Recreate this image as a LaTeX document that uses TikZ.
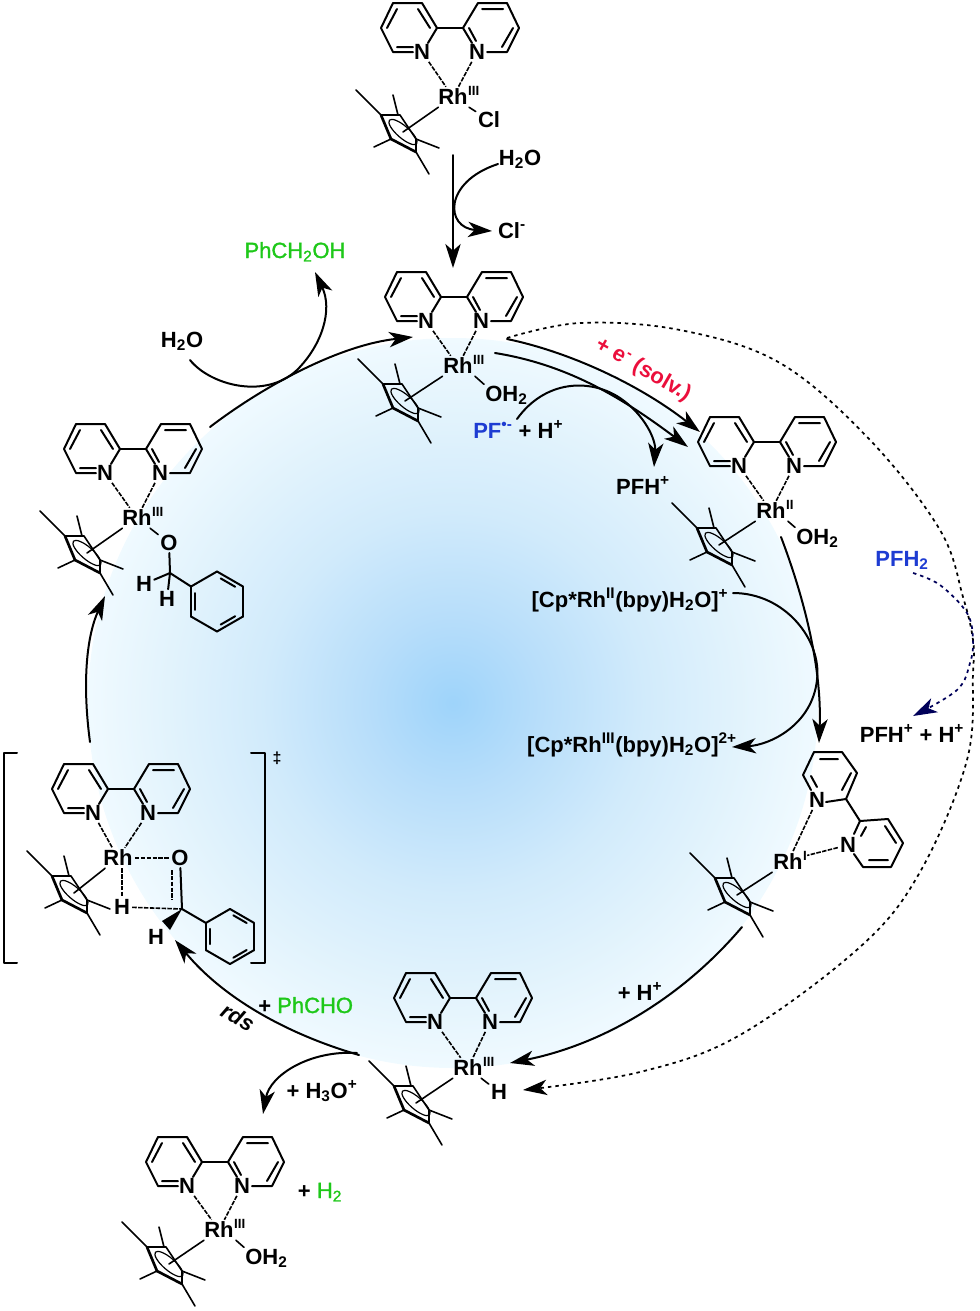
\documentclass[tikz,border=0pt]{standalone}
\usepackage{fontspec}
\setmainfont{Liberation Sans}
\usetikzlibrary{arrows.meta,positioning,calc}
\definecolor{prodgreen}{RGB}{30,200,25}
\definecolor{pfblue}{RGB}{30,60,210}
\definecolor{electronred}{RGB}{235,15,60}
\pgfdeclareradialshading{glow}{\pgfpoint{0bp}{0bp}}{
    rgb(0bp)=(0.62,0.83,0.98);
    rgb(6bp)=(0.72,0.87,0.98);
    rgb(13bp)=(0.82,0.92,0.985);
    rgb(20bp)=(0.89,0.955,0.99);
    rgb(25bp)=(0.94,0.98,1);
    rgb(50bp)=(1,1,1)}
\begin{document}
\begin{tikzpicture}[x=0.75pt,y=-0.75pt,line cap=round,
        bond/.style={line width=1.5pt,line join=round},
        thin bond/.style={line width=1.2pt,line join=round},
        dash bond/.style={line width=1.2pt,dash pattern=on 3.4pt off 1pt,line cap=butt},
        rxn/.style={line width=1.5pt,-{Stealth[length=18pt,width=11.5pt,inset=5pt]}},
        dot rxn/.style={line width=1.3pt,line cap=butt,dash pattern=on 2.6pt off 3pt,-{Stealth[length=18pt,width=11.5pt,inset=5pt]}},
        atom/.style={font=\fontsize{16.5}{17}\selectfont\bfseries,inner sep=1.5pt},
        sup/.style={font=\fontsize{10}{10}\selectfont\bfseries,inner sep=0pt},
        lbl/.style={font=\fontsize{16.5}{17}\selectfont\bfseries,inner sep=0pt},
        prod/.style={font=\fontsize{16.5}{17}\selectfont\addfontfeature{FakeBold=1.5},inner sep=0pt,text=prodgreen}]
        \useasboundingbox (0,0) rectangle (980,1311);

        % draw the shaded disc
        \shade[shading=glow] (453,703) circle (365);

        % draw the bipyridine and the metal of each complex
        \foreach \n/\bx/\by/\rx/\ry/\ox in {
            top/450/28/453/97/III,
            aq/454/297/458/366/III,
            two/767/442/771/511/II,
            alc/133/449/137/518/III,
            ts/121/789/118/858/{},
            hyd/463/998/468/1068/III,
            prod/215/1162/219/1230/III} {
                \begin{scope}[shift={(\bx,\by)}]
                        % the two rings
                        \draw[bond] (-22,15) -- (-13,0) -- (-28,-25) -- (-57,-25) -- (-69,0) -- (-57,24) -- (-37,24);
                        \draw[bond] (22,15) -- (13,0) -- (28,-25) -- (57,-25) -- (69,0) -- (57,24) -- (37,24);
                        \draw[bond] (-13,0) -- (13,0);
                        % the double bonds
                        \draw[bond] (-63,0) -- (-53,-19) (-32,-19) -- (-20,0) (-53,19) -- (-37,19);
                        \draw[bond] (32,-19) -- (53,-19) (63,0) -- (52,19) (19,0) -- (26,13);
                        \node[atom] (nl\n) at (-28,24) {N};
                        \node[atom] (nr\n) at (27,24) {N};
                \end{scope}
                \node[atom] (rh\n) at (\rx,\ry) {Rh};
                \node[sup,anchor=base west] (ox\n) at ([xshift=-1.5pt,yshift=1.5pt]rh\n.east) {\ox};
                \draw[dash bond] (nl\n) -- (rh\n);
                \draw[dash bond] (nr\n) -- (rh\n);
        }

        % the metal of the slipped complex
        \node[atom] (rhone) at (788,862) {Rh};
        \node[sup,anchor=base west] (oxone) at ([xshift=-1.5pt,yshift=1.5pt]rhone.east) {I};
        \node[atom] (nlone) at (817,800) {N};
        \node[atom] (nrone) at (848,845) {N};
        \draw[bond] (811,790) -- (803,775) -- (814,752) -- (842,752) -- (857,773) -- (846,799) -- (826,802);
        \draw[bond] (846,799) -- (860,821) -- (888,819) -- (903,843) -- (891,867) -- (863,867) -- (854,854);
        \draw[bond] (860,821) -- (854,834);
        \draw[bond] (811,776) -- (817,787) (820,759) -- (838,759) (851,773) -- (842,790);
        \draw[bond] (866,827) -- (861,836) (885,826) -- (896,843) (869,860) -- (888,860);
        \draw[dash bond] (nlone) -- (rhone);
        \draw[dash bond] (nrone) -- (oxone.east);

        % draw the Cp* rings
        \foreach \n/\cx/\cy in {
            top/453/97,
            aq/455/366,
            two/769/510,
            alc/137/518,
            ts/124/858,
            one/787/860,
            hyd/466/1068,
            prod/219/1229} {
                \begin{scope}[shift={(\cx,\cy)}]
                        \draw[thin bond] (-72,18) -- (-53,18) -- (-37,42) -- (-37,55);
                        \draw[bond,line width=2pt] (-72,18) -- (-62,42) -- (-37,55);
                        \draw[thin bond] (-72,18) -- (-97,-7) (-55,18) -- (-60,-2) (-37,42) -- (-14,51) (-37,55) -- (-24,77) (-62,42) -- (-79,50);
                        \draw[thin bond,line width=0.9pt] (-50,35) ellipse [x radius=18,y radius=6,rotate=-41];
                        \coordinate (cp\n) at (-50,35);
                \end{scope}
                \draw[thin bond] (rh\n) -- (cp\n);
        }

        % the other ligands on the metal
        \node[atom] (cltop) at (489,120) {Cl};
        \draw[thin bond] (rhtop) -- (cltop);
        \node[atom] (hhyd) at (499,1092) {H};
        \draw[thin bond] (rhhyd) -- (hhyd);
        \foreach \n/\x/\y in {aq/484/401,two/795/544,prod/244/1264} {
                \node[lbl,anchor=base west,outer sep=1pt] (oh\n) at (\x,\y) {OH\textsubscript{2}};
                \draw[thin bond] (rh\n.south east) -- (oh\n.north west);
        }

        % the benzyl alcohol ligand
        \node[atom] (oalc) at (169,543) {O};
        \node[atom] (hlalc) at (144,584) {H};
        \node[atom] (hdalc) at (167,599) {H};
        \coordinate (calc) at (170,573);
        \draw[thin bond] (rhalc) -- (oalc);
        \draw[bond] (oalc) -- (calc) -- (hlalc);
        \draw[bond] (calc) -- (hdalc);
        \draw[bond] (calc) -- (191,586.5);

        % the transition state
        \node[atom] (ots) at (180,858) {O};
        \node[atom] (hats) at (122,907) {H};
        \node[atom] (hbts) at (156,937) {H};
        \coordinate (cts) at (182,909);
        \draw[dash bond] (rhts) -- (ots);
        \draw[dash bond] (rhts.south -| hats) -- (hats);
        \draw[dash bond] (hats) -- (cts);
        \draw[bond] (ots) -- (cts);
        \draw[dash bond] (172,870) -- (172,900);
        \fill (cts) -- (162,921) -- (170,930) -- cycle;
        \draw[bond] (cts) -- (206,923);
        \draw[bond] (17,753) -- (4,753) -- (4,963) -- (17,963);
        \draw[bond] (251,753) -- (265,753) -- (265,963) -- (251,963);
        \node[sup,font=\fontsize{12}{12}\selectfont\bfseries] (dagts) at (277,758) {‡};

        % the two phenyl rings
        \foreach \px/\py/\pr in {217/601.5/30,230/936.5/27.5} {
                \foreach \a in {30,90,...,330}
                        \draw[bond] (\px,\py) +(\a:\pr) -- +(\a+60:\pr);
                \foreach \a in {150,270,30}
                        \draw[bond] (\px,\py) +(\a+9:0.78*\pr) -- +(\a+51:0.78*\pr);
        }

        % draw the labels
        \node[lbl,anchor=base] (wtop) at (520,165) {H\textsubscript{2}O};
        \node[lbl,anchor=base] (cl) at (512,238) {Cl\textsuperscript{-}};
        \node[prod,anchor=base] (alcohol) at (295,258) {PhCH\textsubscript{2}OH};
        \node[lbl,anchor=base] (wleft) at (182,347) {H\textsubscript{2}O};
        \node[lbl,anchor=base west] (pfrad) at (473,438) {\textcolor{pfblue}{PF\textsuperscript{•-}} + H\textsuperscript{+}};
        \node[lbl,anchor=base] (pfha) at (643,494) {PFH\textsuperscript{+}};
        \node[lbl,anchor=base] (rhtwo) at (630,607) {[Cp*Rh\textsuperscript{II}(bpy)H\textsubscript{2}O]\textsuperscript{+}};
        \node[lbl,anchor=base] (rhthree) at (632,752) {[Cp*Rh\textsuperscript{III}(bpy)H\textsubscript{2}O]\textsuperscript{2+}};
        \node[lbl,anchor=base,text=pfblue] (pfhh) at (902,566) {PFH\textsubscript{2}};
        \node[lbl,anchor=base] (pfhb) at (912,742) {PFH\textsuperscript{+} + H\textsuperscript{+}};
        \node[lbl,anchor=base] (proton) at (640,1000) {+ H\textsuperscript{+}};
        \node[lbl,anchor=base west] (plusald) at (258,1013) {+ \textcolor{prodgreen}{\mdseries\addfontfeature{FakeBold=1.5}PhCHO}};
        \node[lbl,anchor=base] (hydronium) at (322,1098) {+ H\textsubscript{3}O\textsuperscript{+}};
        \node[lbl,anchor=base] (plush) at (320,1198) {+ \textcolor{prodgreen}{\mdseries\addfontfeature{FakeBold=1.5}H\textsubscript{2}}};
        \node[lbl,rotate=-30,font=\fontsize{16.5}{17}\selectfont\bfseries\itshape] (rds) at (238,1017) {rds};
        \node[lbl,rotate=-30,text=electronred] (solv) at (643,370) {+ e\textsuperscript{-} (solv.)};

        % free ends of the arrows
        \coordinate (in) at (453,155);
        \coordinate (out) at (453,268);
        \coordinate (aqs) at (507,339);
        \coordinate (aqm) at (495,353);

        % draw the arrows
        \draw[rxn] (in) -- (out);
        \draw[rxn] (498,164) .. controls (443,182) and (445,228) .. (492,231);
        \draw[rxn] (210,427) .. controls (265,385) and (340,345) .. (413,337);
        \draw[rxn] (190,360) .. controls (210,385) and (265,400) .. (297,370) .. controls (322,345) and (333,310) .. (315,272);
        \draw[rxn] (aqs) .. controls (570,352) and (640,385) .. (700,432);
        \draw[rxn] (aqm) .. controls (570,365) and (625,400) .. (688,447);
        \draw[rxn] (517,419) .. controls (545,380) and (590,378) .. (620,398) .. controls (645,415) and (656,440) .. (654,467);
        \draw[rxn] (781,537) .. controls (805,600) and (822,670) .. (819,743);
        \draw[rxn] (733,593) .. controls (785,593) and (822,640) .. (817,680) .. controls (812,725) and (770,745) .. (732,747);
        \draw[rxn] (742,927) .. controls (680,1000) and (600,1045) .. (510,1063);
        \draw[rxn] (359,1055) .. controls (290,1035) and (225,1000) .. (175,940);
        \draw[rxn] (357,1053) .. controls (310,1050) and (270,1075) .. (263,1114);
        \draw[rxn] (90,742) .. controls (83,690) and (85,640) .. (105,596);

        % the dotted arrows
        \draw[dot rxn] plot[smooth,tension=0.6] coordinates {(507,338) (580,323) (680,330) (780,363) (870,440) (940,530) (963,597) (973,640) (973,673) (967,760) (920,872) (860,947) (740,1035) (640,1072) (523,1090)};
        \draw[dot rxn,draw=blue!35!black] plot[smooth,tension=0.6] coordinates {(913,573) (940,585) (967,613) (973,640) (970,663) (957,690) (913,716)};
\end{tikzpicture}
\end{document}
